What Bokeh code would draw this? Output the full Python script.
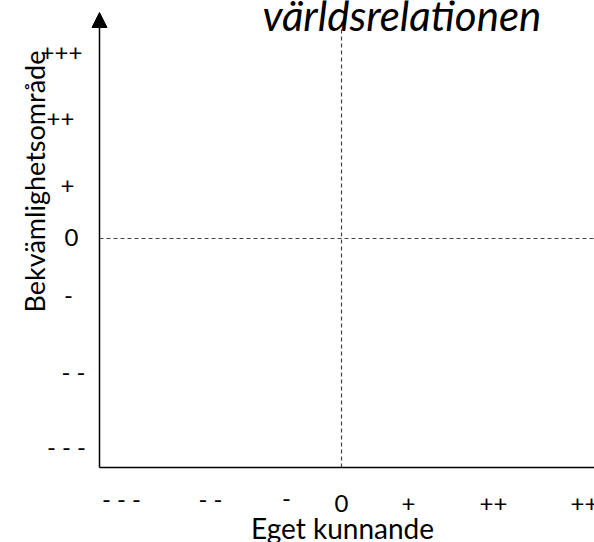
from bokeh.plotting import figure
from bokeh.models import Range1d, Arrow, NormalHead, ColumnDataSource
from bokeh.core.properties import value
from bokeh.embed import file_html
from bokeh.resources import INLINE
import math

# ---- data (diagram levels, positions in chart units measured from the origin) ----
x_levels = ["- - -", "- -", "-", "0", "+", "++", "+++"]
x_level_pos = [22, 111, 187, 242, 309, 394, 492]
x_level_y = [-31, -31, -31, -36, -36, -36, -36]

y_levels = ["+++", "++", "+", "0", "-", "- -", "- - -"]
y_level_pos = [415, 349, 282, 230, 172, 96, 21]
y_level_x = [-38, -39, -32, -28, -31, -26, -33]

zero_x = 242      # vertical dashed reference line
zero_y = 229      # horizontal dashed reference line
y_axis_top = 455
x_axis_end = 600

title_text = "världsrelationen"
x_title = "Eget kunnande"
y_title = "Bekvämlighetsområde"

FONT = "Lato"

p = figure(width=594, height=542, output_backend="svg", toolbar_location=None,
           x_range=Range1d(-99, 495), y_range=Range1d(-75, 467),
           min_border=0, tools="")
p.xaxis.visible = False
p.yaxis.visible = False
p.grid.visible = False
p.outline_line_color = None
p.background_fill_color = "white"
p.border_fill_color = "white"

# axes (solid)
p.line(x=[0, 0], y=[0, y_axis_top - 14], line_color="black", line_width=1.5)
p.line(x=[0, x_axis_end], y=[0, 0], line_color="black", line_width=1.5)
p.add_layout(Arrow(end=NormalHead(size=15, fill_color="black", line_color="black", line_width=1),
                   x_start=0, y_start=y_axis_top - 16, x_end=0, y_end=y_axis_top,
                   line_color="black", line_width=1.5))

# dashed reference lines
p.line(x=[zero_x, zero_x], y=[0, 447], line_color="#444444", line_width=1.2, line_dash="4 3")
p.line(x=[0, x_axis_end], y=[zero_y, zero_y], line_color="#444444", line_width=1.2, line_dash="4 3")

# tick labels
xs = ColumnDataSource(dict(x=x_level_pos, y=x_level_y, t=x_levels))
p.text(x="x", y="y", text="t", source=xs, text_font=value(FONT), text_font_size="24px",
       text_align="center", text_baseline="alphabetic", text_color="black")

ys = ColumnDataSource(dict(x=y_level_x, y=y_level_pos, t=y_levels))
p.text(x="x", y="y", text="t", source=ys, text_font=value(FONT), text_font_size="24px",
       text_align="center", text_baseline="alphabetic", text_color="black")

# axis titles
p.text(x=[243], y=[-60], text=[x_title], text_font=value(FONT), text_font_size="28px",
       text_align="center", text_baseline="alphabetic", text_color="black")
p.text(x=[-65], y=[286], text=[y_title], angle=math.pi / 2, text_font=value(FONT),
       text_font_size="27px", text_align="center", text_baseline="alphabetic", text_color="black")

# title (italic)
p.text(x=[163], y=[453], text=[title_text], text_font=value(FONT), text_font_size="42px",
       text_font_style="italic", text_align="left", text_baseline="alphabetic", text_color="black")

open("out.html", "w").write(file_html(p, INLINE))
